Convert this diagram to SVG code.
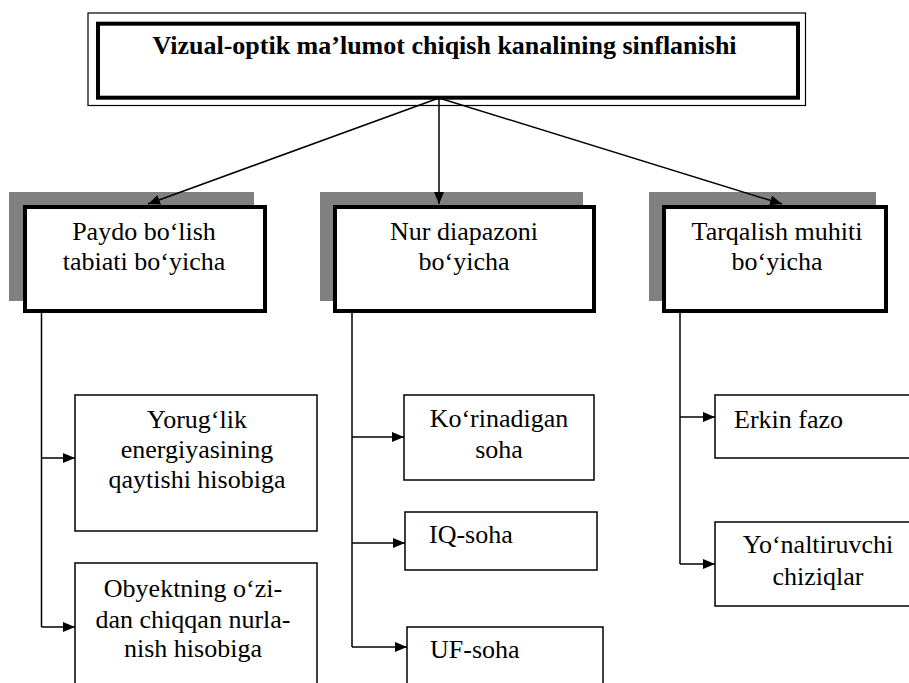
<svg xmlns="http://www.w3.org/2000/svg" width="909" height="683" viewBox="0 0 909 683">
<defs>
<style>
text{font-family:'Liberation Serif','Times New Roman','DejaVu Serif',serif;font-size:26px;fill:#000}
.title{font-weight:bold}
.c{text-anchor:middle}
.shadow{fill:#808080;stroke:none}
.main{fill:#fff;stroke:#000;stroke-width:4}
.leaf{fill:#fff;stroke:#000;stroke-width:1.5}
.conn{fill:none;stroke:#000;stroke-width:1.5}
</style>
<marker id="ah" markerUnits="userSpaceOnUse" markerWidth="12" markerHeight="10" refX="12" refY="5" orient="auto">
<path d="M0,0 L12,5 L0,10 z" fill="#000"/>
</marker>
</defs>
<rect width="909" height="683" fill="#fff"/>

<g id="title">
<rect x="88" y="13" width="717.5" height="92.5" fill="#fff" stroke="#000" stroke-width="1.2"/>
<rect x="98" y="23.7" width="700" height="74" fill="#fff" stroke="#000" stroke-width="4"/>
<text class="title c" x="444.5" y="54" font-family="Liberation Serif, serif">Vizual-optik ma’lumot chiqish kanalining sinflanishi</text>
</g>

<g id="paydo">
<rect class="shadow" x="9" y="192" width="245" height="109"/>
<rect class="main" x="25" y="207" width="240" height="104"/>
<text class="c" x="144" y="240">Paydo bo‘lish</text>
<text class="c" x="144" y="270">tabiati bo‘yicha</text>
</g>

<g id="nur">
<rect class="shadow" x="320" y="192" width="263" height="109"/>
<rect class="main" x="335" y="207" width="259" height="104"/>
<text class="c" x="464" y="240">Nur diapazoni</text>
<text class="c" x="464" y="270">bo‘yicha</text>
</g>

<g id="tarqalish">
<rect class="shadow" x="649" y="192" width="227" height="109"/>
<rect class="main" x="664" y="207" width="222" height="104"/>
<text class="c" x="777" y="240">Tarqalish muhiti</text>
<text class="c" x="777" y="270">bo‘yicha</text>
</g>

<g id="yoruglik">
<rect class="leaf" x="75" y="395" width="242" height="136"/>
<text class="c" x="197" y="428">Yorug‘lik</text>
<text class="c" x="197" y="458">energiyasining</text>
<text class="c" x="197" y="488">qaytishi hisobiga</text>
</g>

<g id="obyekt">
<rect class="leaf" x="75" y="563" width="242" height="140"/>
<text class="c" x="193" y="597">Obyektning o‘zi-</text>
<text class="c" x="193" y="628">dan chiqqan nurla-</text>
<text class="c" x="193" y="657">nish hisobiga</text>
</g>

<g id="korinadigan">
<rect class="leaf" x="404" y="395" width="190" height="85"/>
<text class="c" x="499" y="427">Ko‘rinadigan</text>
<text class="c" x="499" y="458">soha</text>
</g>

<g id="iq">
<rect class="leaf" x="405" y="512" width="192" height="58"/>
<text x="429" y="543">IQ-soha</text>
</g>

<g id="uf">
<rect class="leaf" x="407" y="627" width="196" height="80"/>
<text x="430" y="658">UF-soha</text>
</g>

<g id="erkin">
<rect class="leaf" x="715" y="395" width="210" height="63"/>
<text x="734" y="428">Erkin fazo</text>
</g>

<g id="yonaltiruvchi">
<rect class="leaf" x="715" y="522" width="210" height="84"/>
<text class="c" x="818" y="553">Yo‘naltiruvchi</text>
<text class="c" x="818" y="585">chiziqlar</text>
</g>

<g id="connectors">
<line class="conn" x1="439" y1="98" x2="148" y2="204" marker-end="url(#ah)"/>
<line class="conn" x1="439" y1="98" x2="439" y2="204" marker-end="url(#ah)"/>
<line class="conn" x1="439" y1="98" x2="782" y2="204" marker-end="url(#ah)"/>
<polyline class="conn" points="41.5,313 41.5,627"/>
<line class="conn" x1="41.5" y1="458" x2="75" y2="458" marker-end="url(#ah)"/>
<line class="conn" x1="41.5" y1="627" x2="75" y2="627" marker-end="url(#ah)"/>
<polyline class="conn" points="352,313 352,647"/>
<line class="conn" x1="352" y1="437" x2="404" y2="437" marker-end="url(#ah)"/>
<line class="conn" x1="352" y1="543" x2="405" y2="543" marker-end="url(#ah)"/>
<line class="conn" x1="352" y1="647" x2="407" y2="647" marker-end="url(#ah)"/>
<polyline class="conn" points="680,313 680,564"/>
<line class="conn" x1="680" y1="417" x2="715" y2="417" marker-end="url(#ah)"/>
<line class="conn" x1="680" y1="564" x2="715" y2="564" marker-end="url(#ah)"/>
</g>
</svg>
